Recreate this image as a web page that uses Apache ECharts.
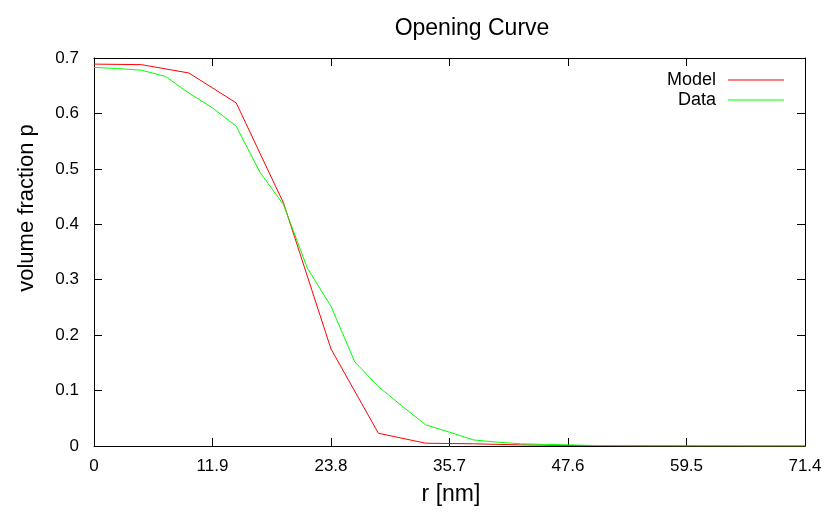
<!DOCTYPE html>
<html>
<head>
<meta charset="utf-8">
<script src="https://cdn.jsdelivr.net/npm/echarts@6/dist/echarts.min.js"></script>
<style>html,body{margin:0;padding:0;background:#fff}#c{width:836px;height:511px}</style>
</head>
<body>
<div id="c"></div>
<script>
var titleText = 'Opening Curve';
var xName = 'r [nm]';
var yName = 'volume fraction p';
var seriesNames = ['Model', 'Data'];
var xTicks = [0, 11.9, 23.8, 35.7, 47.6, 59.5, 71.4];
var yTicks = [0, 0.1, 0.2, 0.3, 0.4, 0.5, 0.6, 0.7];

var modelX = [0, 4.76, 9.52, 14.28, 19.04, 23.8, 28.56, 33.32, 38.08, 42.84, 47.6, 52.36, 57.12, 61.88, 66.64, 71.4];
var modelY = [0.689, 0.688, 0.673, 0.619, 0.438, 0.175, 0.023, 0.005, 0.004, 0.002, 0.001, 0.0005, 0.0002, 0.0001, 0, 0];

var dataX = [0, 2.38, 4.76, 7.14, 9.52, 11.9, 14.28, 16.66, 19.04, 21.42, 23.8, 26.18, 28.56, 30.94, 33.32, 35.7, 38.08, 40.46, 42.84, 45.22, 47.6, 49.98, 52.36, 54.74, 57.12, 59.5, 61.88, 64.26, 66.64, 69.02, 71.4];
var dataY = [0.683, 0.681, 0.678, 0.667, 0.637, 0.610, 0.577, 0.494, 0.435, 0.321, 0.252, 0.152, 0.107, 0.072, 0.038, 0.025, 0.011, 0.007, 0.004, 0.003, 0.002, 0.001, 0.0007, 0.0005, 0.0003, 0.0002, 0.0001, 0.0001, 0, 0, 0];

function pairs(xs, ys) { return xs.map(function (x, i) { return [x, ys[i]]; }); }

var FONT = 'Liberation Sans, Arial, sans-serif';
var chart = echarts.init(document.getElementById('c'), null, { renderer: 'canvas' });

var xStep = xTicks[1] - xTicks[0];
var yStep = yTicks[1] - yTicks[0];
function fmt(v) { var s = (+v).toFixed(1); return s === '0.0' ? '0' : s; }

function axisCommon() {
  return {
    axisLine: { show: true, onZero: false, lineStyle: { color: '#000', width: 1 } },
    axisTick: { show: true, inside: true, length: 8, lineStyle: { color: '#000', width: 1 } },
    splitLine: { show: false }
  };
}

chart.setOption({
  animation: false,
  backgroundColor: '#fff',
  title: {
    text: titleText, left: 467, top: 12, textAlign: 'center',
    textStyle: { fontFamily: FONT, fontSize: 23, fontWeight: 'normal', color: '#000' }
  },
  grid: { left: 94, right: 31, top: 58, bottom: 65, show: false },
  legend: {
    data: seriesNames.map(function (n) { return { name: n, icon: 'rect' }; }),
    orient: 'vertical', align: 'right', right: 47, top: 66,
    itemWidth: 56, itemHeight: 1.2, itemGap: 2,
    textStyle: { fontFamily: FONT, fontSize: 18, lineHeight: 18, color: '#000', padding: [0, 7, 0, 0] }
  },
  xAxis: [
    Object.assign({
      type: 'value', min: xTicks[0], max: xTicks[xTicks.length - 1], interval: xStep,
      axisLabel: { formatter: fmt, fontFamily: FONT, fontSize: 17, color: '#000', margin: 12 }
    }, axisCommon()),
    Object.assign({
      type: 'value', position: 'top', min: xTicks[0], max: xTicks[xTicks.length - 1], interval: xStep,
      axisLabel: { show: false }
    }, axisCommon())
  ],
  yAxis: [
    Object.assign({
      type: 'value', min: yTicks[0], max: yTicks[yTicks.length - 1], interval: yStep,
      axisLabel: { formatter: fmt, fontFamily: FONT, fontSize: 17, color: '#000', margin: 15 }
    }, axisCommon()),
    Object.assign({
      type: 'value', position: 'right', min: yTicks[0], max: yTicks[yTicks.length - 1], interval: yStep,
      axisLabel: { show: false }
    }, axisCommon())
  ],
  graphic: [
    {
      type: 'text', x: 451, y: 495,
      style: { text: xName, fontFamily: FONT, fontSize: 23, fill: '#000', textAlign: 'center', textVerticalAlign: 'middle' }
    },
    {
      type: 'text', x: 27, y: 208, rotation: Math.PI / 2,
      style: { text: yName, fontFamily: FONT, fontSize: 22, fill: '#000', textAlign: 'center', textVerticalAlign: 'middle' }
    }
  ],
  series: [
    {
      name: seriesNames[0], type: 'line', data: pairs(modelX, modelY), xAxisIndex: 0, yAxisIndex: 0,
      showSymbol: false, symbol: 'none', lineStyle: { color: '#ff0000', width: 1 }, itemStyle: { color: '#ff0000' }
    },
    {
      name: seriesNames[1], type: 'line', data: pairs(dataX, dataY), xAxisIndex: 0, yAxisIndex: 0,
      showSymbol: false, symbol: 'none', lineStyle: { color: '#00ff00', width: 1 }, itemStyle: { color: '#00ff00' }
    }
  ]
});
</script>
</body>
</html>
